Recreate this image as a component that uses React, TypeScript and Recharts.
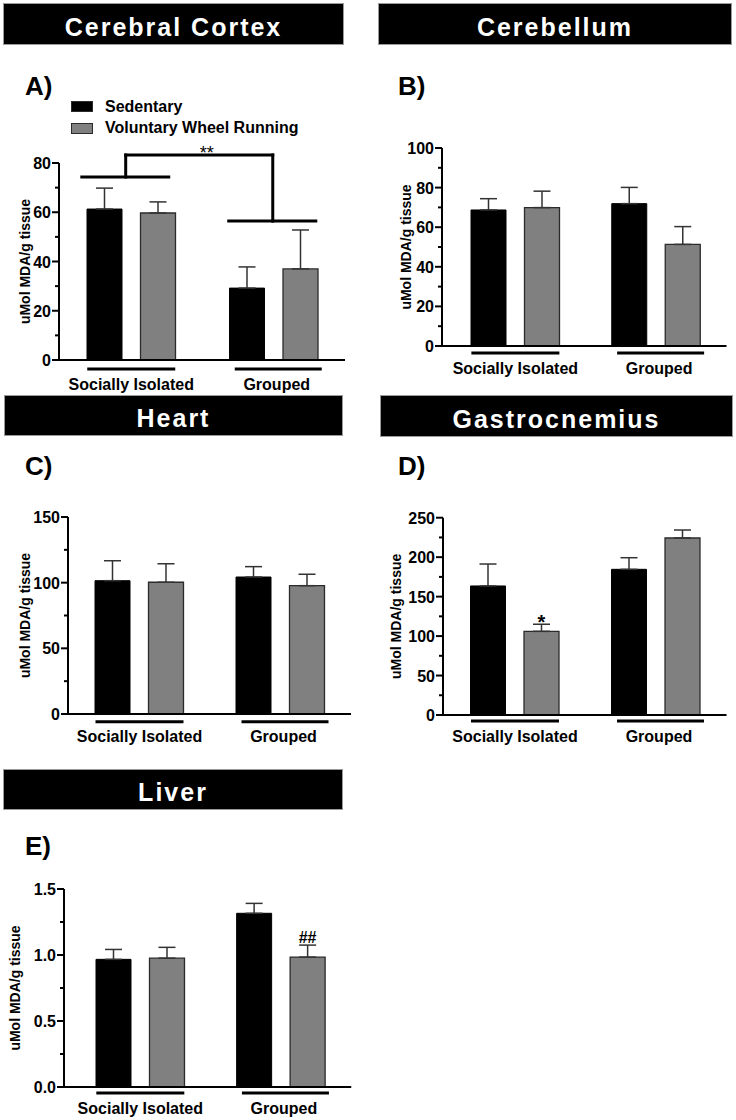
import React from 'react';
import {
  BarChart,
  Bar,
  XAxis,
  YAxis,
  ErrorBar,
  Legend,
  ReferenceLine,
  ReferenceDot,
  LabelList,
} from 'recharts';

const FONT = '"Liberation Sans", Arial, Helvetica, sans-serif';

// ---------- data ----------
const groups = ['Socially Isolated', 'Grouped'];
const groupPos = [0.5, 1.5];
const seriesNames = ['Sedentary', 'Voluntary Wheel Running'];

const cortexSed = [61.3, 29.2];
const cortexSedSem = [8.5, 8.6];
const cortexRun = [59.7, 37.0];
const cortexRunSem = [4.5, 15.8];

const cerebellumSed = [68.7, 71.9];
const cerebellumSedSem = [5.7, 8.2];
const cerebellumRun = [69.9, 51.3];
const cerebellumRunSem = [8.3, 9.0];

const heartSed = [101.5, 104.3];
const heartSedSem = [15.2, 7.9];
const heartRun = [100.3, 97.7];
const heartRunSem = [14.1, 8.7];

const gastroSed = [163.5, 184.6];
const gastroSedSem = [27.8, 14.7];
const gastroRun = [106.0, 224.3];
const gastroRunSem = [9.0, 10.1];
const gastroRunMarks = ['*', ''];

const liverSed = [0.967, 1.316];
const liverSedSem = [0.075, 0.075];
const liverRun = [0.976, 0.984];
const liverRunSem = [0.082, 0.091];
const liverRunMarks = ['', '##'];

const cortexMajor = [0, 20, 40, 60, 80];
const cortexMinor = [10, 30, 50, 70];
const cerebellumMajor = [0, 20, 40, 60, 80, 100];
const cerebellumMinor = [10, 30, 50, 70, 90];
const heartMajor = [0, 50, 100, 150];
const heartMinor = [25, 75, 125];
const gastroMajor = [0, 50, 100, 150, 200, 250];
const gastroMinor = [25, 75, 125, 175, 225];
const liverMajor = [0, 0.5, 1.0, 1.5];
const liverMinor = [0.25, 0.75, 1.25];

// significance bracket for cortex (x in group units 0..2, y in data units)
const cortexBracketSegments = [
  [{ x: 0.153, y: 74.3 }, { x: 0.763, y: 74.3 }],
  [{ x: 0.461, y: 74.3 }, { x: 0.461, y: 83.25 }],
  [{ x: 0.461, y: 83.25 }, { x: 1.493, y: 83.25 }],
  [{ x: 1.493, y: 83.25 }, { x: 1.493, y: 56.4 }],
  [{ x: 1.184, y: 56.4 }, { x: 1.795, y: 56.4 }],
];
const cortexStarPos = { x: 1.03, y: 83.25 };

const Y_LABEL = 'uMol MDA/g tissue';

// ---------- components ----------
const TICK_SIZE = 7;
const TICK_MARGIN = 2;

const YTick = (props: any) => {
  const { x, y, payload, majors, fmt } = props;
  const isMajor = majors.some((m: number) => Math.abs(m - payload.value) < 1e-9);
  const axisX = x + TICK_SIZE + TICK_MARGIN;
  return (
    <g>
      <line
        x1={axisX - (isMajor ? 7 : 4)}
        x2={axisX}
        y1={y}
        y2={y}
        stroke="#000"
        strokeWidth={2}
      />
      {isMajor && (
        <text
          x={axisX - 8}
          y={y + 6}
          textAnchor="end"
          fontFamily={FONT}
          fontWeight={700}
          fontSize={16}
          fill="#000"
        >
          {fmt(payload.value)}
        </text>
      )}
    </g>
  );
};

const UNDER = [
  [-44, 44],
  [-39, 48],
];

const XTick = (props: any) => {
  const { x, y, payload, index, underDy, labelDy } = props;
  const [l, r] = UNDER[index] || [-44, 44];
  return (
    <g>
      <line x1={x + l} x2={x + r} y1={y + underDy} y2={y + underDy} stroke="#000" strokeWidth={3} />
      <text
        x={x + (index === 0 ? 0 : 3)}
        y={y + labelDy}
        textAnchor="middle"
        fontFamily={FONT}
        fontWeight={700}
        fontSize={16}
        fill="#000"
      >
        {payload.value}
      </text>
    </g>
  );
};

const YLabel = (props: any) => {
  const { viewBox, d } = props;
  const axisX = viewBox.x + viewBox.width;
  const cx = axisX - d;
  const cy = viewBox.y + viewBox.height / 2;
  return (
    <text
      x={cx}
      y={cy}
      transform={`rotate(-90 ${cx} ${cy})`}
      textAnchor="middle"
      fontFamily={FONT}
      fontWeight={700}
      fontSize={14}
      fill="#000"
    >
      {Y_LABEL}
    </text>
  );
};

const renderLegend = (props: any) => {
  const { payload } = props;
  return (
    <div style={{ fontFamily: FONT, fontWeight: 700, fontSize: 16, color: '#000' }}>
      {(payload || []).map((e: any) => (
        <div key={e.value} style={{ display: 'flex', alignItems: 'center', height: 21.5 }}>
          <span
            style={{
              display: 'inline-block',
              width: 22,
              height: 11,
              background: e.color,
              border: '1px solid #2b2b2b',
              boxSizing: 'border-box',
              marginRight: 12,
            }}
          />
          <span style={{ whiteSpace: 'nowrap' }}>{e.value}</span>
        </div>
      ))}
    </div>
  );
};

const MarkLabel = (props: any) => {
  const { x, y, width, height, value, index, vals, sems, dy, fontSize } = props;
  if (!value) return null;
  const perUnit = height / vals[index];
  const top = y - sems[index] * perUnit;
  return (
    <text
      x={x + width / 2}
      y={top + dy}
      textAnchor="middle"
      fontFamily={FONT}
      fontWeight={700}
      fontSize={fontSize}
      fill="#000"
    >
      {value}
    </text>
  );
};

type Cfg = {
  cx: number;
  cy: number;
  W: number;
  H: number;
  mt: number;
  mr: number;
  yw: number;
  padL: number;
  domain: [number, number];
  majors: number[];
  minors: number[];
  fmt: (v: number) => string;
  yLabelD: number;
  underDy: number;
  labelDy: number;
  sed: number[];
  sedSem: number[];
  run: number[];
  runSem: number[];
  marks?: string[];
  markDy?: number;
  markSize?: number;
  legend?: boolean;
  bracket?: boolean;
};

function Panel({ cfg }: { cfg: Cfg }) {
  const data = groups.map((g, i) => ({
    group: g,
    pos: groupPos[i],
    sed: cfg.sed[i],
    sedErr: [0, cfg.sedSem[i]],
    run: cfg.run[i],
    runErr: [0, cfg.runSem[i]],
    mark: cfg.marks ? cfg.marks[i] : '',
  }));
  const ticks = [...cfg.majors, ...cfg.minors].sort((a, b) => a - b);
  return (
    <div style={{ position: 'absolute', left: cfg.cx, top: cfg.cy }}>
      <BarChart
        width={cfg.W}
        height={cfg.H}
        data={data}
        margin={{ top: cfg.mt, right: cfg.mr, bottom: 0, left: 0 }}
        barSize={35}
        barGap={18.5}
      >
        <XAxis
          dataKey="group"
          type="category"
          height={34}
          padding={{ left: cfg.padL, right: 0 }}
          axisLine={{ stroke: '#000', strokeWidth: 2 }}
          tickLine={false}
          tickSize={0}
          tickMargin={0}
          interval={0}
          tick={(p: any) => <XTick {...p} underDy={cfg.underDy} labelDy={cfg.labelDy} />}
        />
        <XAxis
          xAxisId="num"
          dataKey="pos"
          type="number"
          domain={[0, 2]}
          allowDataOverflow
          hide
          padding={{ left: cfg.padL, right: 0 }}
        />
        <YAxis
          type="number"
          domain={cfg.domain}
          ticks={ticks}
          interval={0}
          allowDataOverflow
          width={cfg.yw}
          axisLine={{ stroke: '#000', strokeWidth: 2 }}
          tickLine={false}
          tickSize={TICK_SIZE}
          tickMargin={TICK_MARGIN}
          tick={(p: any) => <YTick {...p} majors={cfg.majors} fmt={cfg.fmt} />}
          label={{ content: (p: any) => <YLabel {...p} d={cfg.yLabelD} /> }}
        />
        <Bar dataKey="sed" name={seriesNames[0]} fill="#000" stroke="#000" strokeWidth={1} isAnimationActive={false}>
          <ErrorBar dataKey="sedErr" width={8.5} stroke="#333" strokeWidth={1.5} direction="y" />
        </Bar>
        <Bar dataKey="run" name={seriesNames[1]} fill="#808080" stroke="#2b2b2b" strokeWidth={1.3} isAnimationActive={false}>
          <ErrorBar dataKey="runErr" width={8.5} stroke="#333" strokeWidth={1.5} direction="y" />
          {cfg.marks && (
            <LabelList
              dataKey="mark"
              content={(p: any) => (
                <MarkLabel {...p} vals={cfg.run} sems={cfg.runSem} dy={cfg.markDy} fontSize={cfg.markSize} />
              )}
            />
          )}
        </Bar>
        {cfg.legend && (
          <Legend
            layout="vertical"
            align="center"
            verticalAlign="middle"
            content={renderLegend}
            wrapperStyle={{ top: 1, left: 71, width: 260 }}
          />
        )}
        {cfg.bracket &&
          cortexBracketSegments.map((seg, i) => (
            <ReferenceLine
              key={i}
              xAxisId="num"
              segment={seg}
              stroke="#000"
              strokeWidth={3}
              strokeLinecap="square"
              ifOverflow="visible"
            />
          ))}
        {cfg.bracket && (
          <ReferenceDot
            xAxisId="num"
            x={cortexStarPos.x}
            y={cortexStarPos.y}
            r={0}
            ifOverflow="visible"
            label={(p: any) => {
              const vb = p.viewBox || {};
              const cx = vb.x + (vb.width || 0) / 2;
              const cy = vb.y + (vb.height || 0) / 2;
              return (
                <text x={cx} y={cy + 4.5} textAnchor="middle" fontFamily={FONT} fontSize={18} fill="#000">
                  **
                </text>
              );
            }}
          />
        )}
      </BarChart>
    </div>
  );
}

const intFmt = (v: number) => String(v);
const decFmt = (v: number) => v.toFixed(1);

const panels: Cfg[] = [
  {
    cx: 0, cy: 95, W: 360, H: 299, mt: 68, mr: 15, yw: 59, padL: 1,
    domain: [0, 80], majors: cortexMajor, minors: cortexMinor, fmt: intFmt,
    yLabelD: 29, underDy: 9, labelDy: 29.5,
    sed: cortexSed, sedSem: cortexSedSem, run: cortexRun, runSem: cortexRunSem,
    legend: true, bracket: true,
  },
  {
    cx: 370, cy: 110, W: 366, H: 270, mt: 38, mr: 9.5, yw: 72, padL: 3,
    domain: [0, 100], majors: cerebellumMajor, minors: cerebellumMinor, fmt: intFmt,
    yLabelD: 31, underDy: 7, labelDy: 27.5,
    sed: cerebellumSed, sedSem: cerebellumSedSem, run: cerebellumRun, runSem: cerebellumRunSem,
  },
  {
    cx: 0, cy: 480, W: 366, H: 268, mt: 37, mr: 15, yw: 68, padL: 1,
    domain: [0, 150], majors: heartMajor, minors: heartMinor, fmt: intFmt,
    yLabelD: 38, underDy: 7.7, labelDy: 27.5,
    sed: heartSed, sedSem: heartSedSem, run: heartRun, runSem: heartRunSem,
  },
  {
    cx: 370, cy: 480, W: 366, H: 269, mt: 37.7, mr: 9.5, yw: 73, padL: 1.5,
    domain: [0, 250], majors: gastroMajor, minors: gastroMinor, fmt: intFmt,
    yLabelD: 42, underDy: 6, labelDy: 26.5,
    sed: gastroSed, sedSem: gastroSedSem, run: gastroRun, runSem: gastroRunSem,
    marks: gastroRunMarks, markDy: 5, markSize: 20,
  },
  {
    cx: 0, cy: 850, W: 366, H: 271, mt: 39, mr: 14.75, yw: 64, padL: 6,
    domain: [0, 1.5], majors: liverMajor, minors: liverMinor, fmt: decFmt,
    yLabelD: 44, underDy: 6, labelDy: 26.5,
    sed: liverSed, sedSem: liverSedSem, run: liverRun, runSem: liverRunSem,
    marks: liverRunMarks, markDy: -2, markSize: 16,
  },
];

const titles = [
  { text: 'Cerebral Cortex', left: 3, top: 3, width: 341, height: 42 },
  { text: 'Cerebellum', left: 378, top: 3, width: 354, height: 42 },
  { text: 'Heart', left: 4, top: 395, width: 339, height: 41 },
  { text: 'Gastrocnemius', left: 380, top: 395, width: 353, height: 42 },
  { text: 'Liver', left: 3, top: 769, width: 340, height: 41 },
];

const letters = [
  { text: 'A)', left: 25, baseline: 97 },
  { text: 'B)', left: 398, baseline: 97 },
  { text: 'C)', left: 25, baseline: 477 },
  { text: 'D)', left: 398, baseline: 477 },
  { text: 'E)', left: 25, baseline: 857 },
];

export default function App() {
  return (
    <div
      style={{
        position: 'absolute',
        left: 0,
        top: 0,
        width: 736,
        height: 1120,
        overflow: 'hidden',
        background: '#fff',
        fontFamily: FONT,
      }}
    >
      {titles.map((t) => (
        <div
          key={t.text}
          style={{
            position: 'absolute',
            left: t.left,
            top: t.top,
            width: t.width,
            height: t.height,
            background: '#000',
            border: '1px solid #9a9a9a',
            boxSizing: 'border-box',
            color: '#fff',
            fontWeight: 700,
            fontSize: 25,
            letterSpacing: 2,
            lineHeight: `${t.height - 2}px`,
            textAlign: 'center',
            paddingTop: 3,
          }}
        >
          {t.text}
        </div>
      ))}
      {letters.map((l) => (
        <div
          key={l.text}
          style={{
            position: 'absolute',
            left: l.left,
            top: l.baseline - 24,
            fontWeight: 700,
            fontSize: 26,
            lineHeight: '26px',
            color: '#000',
          }}
        >
          {l.text}
        </div>
      ))}
      {panels.map((cfg, i) => (
        <Panel key={i} cfg={cfg} />
      ))}
    </div>
  );
}
